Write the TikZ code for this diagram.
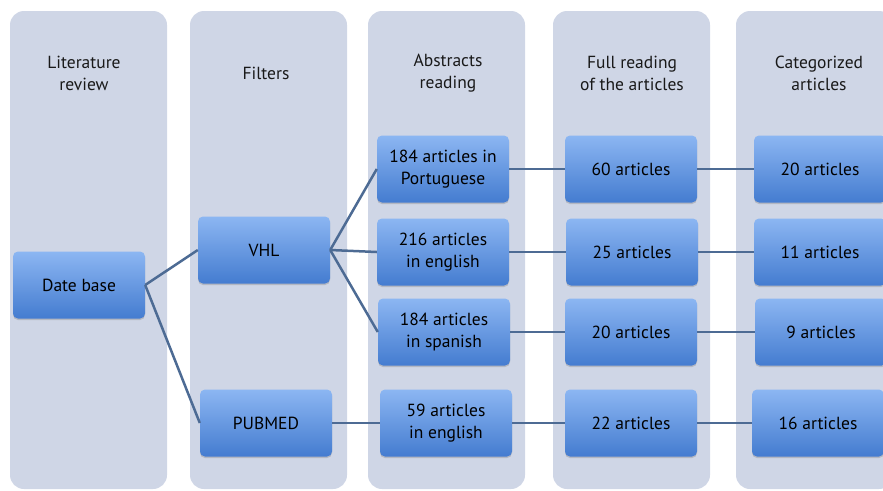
\documentclass[tikz,border=0pt]{standalone}
\usepackage{fontspec}
\setmainfont{PT Sans}
\usetikzlibrary{shadows}

\definecolor{panelgray}{HTML}{CFD6E6}
\definecolor{boxtop}{HTML}{8CB6F2}
\definecolor{boxbot}{HTML}{447CD0}
\definecolor{linkblue}{HTML}{4D6B94}

\begin{document}
\begin{tikzpicture}[x=1pt,y=-1pt,
  box node/.style={rectangle,rounded corners=5pt,minimum width=132pt,minimum height=67pt,
    top color=boxtop,bottom color=boxbot,align=center,text=black,
    font=\fontsize{17.5}{22}\selectfont,
    drop shadow={shadow xshift=0pt,shadow yshift=-1.5pt,opacity=.35}},
  head node/.style={align=center,text=black!90,font=\fontsize{17.5}{22}\selectfont},
  link/.style={draw=linkblue,line width=2.5pt}]

  \clip (0,0) rectangle (883,490);

  % columns
  \foreach \x in {10,190,368,553,736}
    \fill[panelgray,rounded corners=14pt] (\x,11) rectangle ++(157,478);

  \node[head node] (lit) at (84,73) {Literature\\review};
  \node[head node] (filt) at (266,73) {Filters};
  \node[head node] (abs) at (448,73) {Abstracts\\reading};
  \node[head node] (full) at (632,73) {Full reading\\of the articles};
  \node[head node] (cat) at (819,73) {Categorized\\articles};

  \node[box node] (db) at (79,285) {Date base};
  \node[box node] (vhl) at (264,250) {VHL};
  \node[box node] (pubmed) at (266,423) {PUBMED};

  \node[box node] (pt) at (443,169) {184 articles in\\Portuguese};
  \node[box node] (en) at (443,252) {216 articles\\in english};
  \node[box node] (es) at (444,332) {184 articles\\in spanish};
  \node[box node] (pen) at (446,423) {59 articles\\in english};

  \node[box node] (full1) at (631,169) {60 articles};
  \node[box node] (full2) at (632,252) {25 articles};
  \node[box node] (full3) at (631,332) {20 articles};
  \node[box node] (full4) at (631,423) {22 articles};

  \node[box node] (cat1) at (820,169) {20 articles};
  \node[box node] (cat2) at (820,252) {11 articles};
  \node[box node] (cat3) at (821,332) {9 articles};
  \node[box node] (cat4) at (818,423) {16 articles};

  \path[link]
    (db.east) edge (vhl.west)
    (db.east) edge (pubmed.west)
    (vhl.east) edge (pt.west)
    (vhl.east) edge (en.west)
    (vhl.east) edge (es.west)
    (pubmed.east) edge (pen.west)
    (pt.east) edge (full1.west)
    (en.east) edge (full2.west)
    (es.east) edge (full3.west)
    (pen.east) edge (full4.west)
    (full1.east) edge (cat1.west)
    (full2.east) edge (cat2.west)
    (full3.east) edge (cat3.west)
    (full4.east) edge (cat4.west)
    ;

\end{tikzpicture}
\end{document}
